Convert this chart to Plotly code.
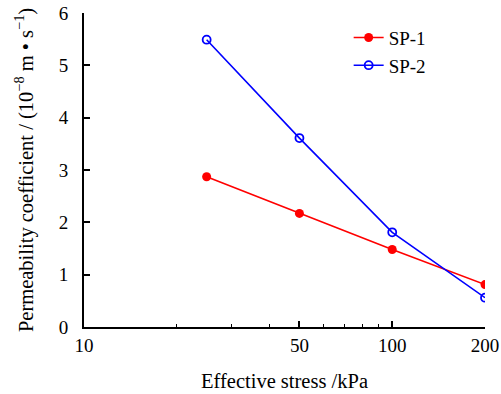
import plotly.graph_objects as go

stress = [25, 50, 100, 200]
sp1 = [2.87, 2.17, 1.48, 0.81]
sp2 = [5.49, 3.61, 1.81, 0.56]
x_ticks = [10, 50, 100, 200]
x_minor = [20, 30, 40, 60, 70, 80, 90]
y_ticks = [0, 1, 2, 3, 4, 5, 6]

font = "Liberation Serif"

fig = go.Figure()
fig.add_trace(go.Scatter(x=stress, y=sp1, name="SP-1", mode="lines+markers",
                         line=dict(color="#ff0000", width=1.6),
                         marker=dict(symbol="circle", size=9, color="#ff0000")))
fig.add_trace(go.Scatter(x=stress, y=sp2, name="SP-2", mode="lines+markers",
                         line=dict(color="#0000ff", width=1.6),
                         marker=dict(symbol="circle-open", size=8, color="#0000ff",
                                     line=dict(width=1.8, color="#0000ff"))))

fig.update_layout(
    width=501, height=394,
    margin=dict(l=84, r=16, t=13, b=67),
    paper_bgcolor="white", plot_bgcolor="white",
    font=dict(family=font, size=19, color="black"),
    showlegend=True,
    legend=dict(x=0.66, y=0.982, xanchor="left", yanchor="top",
                bgcolor="rgba(0,0,0,0)", font=dict(size=19, family=font, color="black"),
                tracegroupgap=0),
    xaxis=dict(type="log", range=[1, 2.301], automargin=False,
               tickvals=x_ticks, ticktext=[str(v) for v in x_ticks],
               ticks="inside", ticklen=6, tickwidth=1.5, tickcolor="black",
               ticklabelstandoff=0, ticklabeloverflow="allow",
               minor=dict(tickvals=x_minor, ticks="inside", ticklen=3, tickwidth=1.2, tickcolor="black"),
               showline=True, linecolor="black", linewidth=2, showgrid=False, zeroline=False,
               tickfont=dict(size=19, family=font, color="black"),
               title=dict(text="Effective stress /kPa", font=dict(size=20.5, family=font, color="black"), standoff=19)),
    yaxis=dict(range=[0, 6], tickvals=y_ticks, automargin=False,
               ticks="inside", ticklen=6, tickwidth=1.5, tickcolor="black",
               ticklabelstandoff=10, ticklabeloverflow="allow",
               showline=True, linecolor="black", linewidth=2, showgrid=False, zeroline=False,
               tickfont=dict(size=19, family=font, color="black"),
               title=dict(text="Permeability coefficient / (10<sup>−8</sup> m • s<sup>−1</sup>)",
                          font=dict(size=20.5, family=font, color="black"), standoff=20)),
)

# remove the default 8px body margin so the figure sits at the page corner
fig.write_html("out.html", config={"displayModeBar": False},
               post_script="document.body.style.margin='0';")
